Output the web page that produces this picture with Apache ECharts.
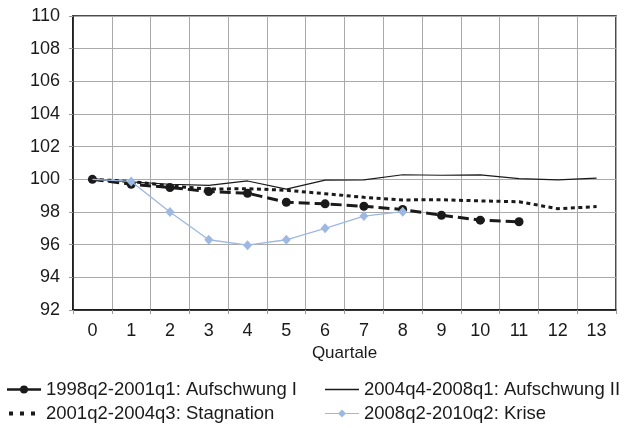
<!DOCTYPE html>
<html>
<head>
<meta charset="utf-8">
<script src="https://cdn.jsdelivr.net/npm/echarts@6/dist/echarts.min.js"></script>
<style>html,body{margin:0;padding:0;background:#fff}#c{width:630px;height:428px}</style>
</head>
<body>
<div id="c"></div>
<script>
var categories = ['0','1','2','3','4','5','6','7','8','9','10','11','12','13'];
var aufschwungI = [100, 99.7, 99.5, 99.25, 99.15, 98.6, 98.5, 98.35, 98.15, 97.8, 97.5, 97.4];
var aufschwungII = [100, 99.85, 99.7, 99.63, 99.9, 99.4, 99.95, 99.97, 100.28, 100.25, 100.27, 100.04, 99.97, 100.07];
var stagnation = [100, 99.87, 99.6, 99.4, 99.43, 99.33, 99.12, 98.9, 98.74, 98.75, 98.68, 98.63, 98.2, 98.33];
var krise = [100, 99.87, 98.0, 96.3, 95.97, 96.3, 97.0, 97.75, 98.02];
var names = ['1998q2-2001q1: Aufschwung I', '2004q4-2008q1: Aufschwung II', '2001q2-2004q3: Stagnation', '2008q2-2010q2: Krise'];
var yTicks = {min: 92, max: 110, interval: 2};

var FONT = "'Liberation Sans', Arial, sans-serif";
var icons = [
  'path://M0,3.8 L13.5,3.8 L13.5,6.2 L0,6.2 Z M20.5,3.8 L34,3.8 L34,6.2 L20.5,6.2 Z M13,5 A4,4 0 1,1 21,5 A4,4 0 1,1 13,5 Z',
  'path://M0,1 L0.01,1 L0.01,9 L0,9 Z M0,4.3 L34,4.3 L34,5.7 L0,5.7 Z',
  'path://M0,1 L0.01,1 L0.01,9 L0,9 Z M2,3 L6,3 L6,7 L2,7 Z M13,3 L17,3 L17,7 L13,7 Z M24,3 L28,3 L28,7 L24,7 Z M33.99,1 L34,1 L34,9 L33.99,9 Z',
  'path://M0,4.4 L13.5,4.4 L13.5,5.6 L0,5.6 Z M20.5,4.4 L34,4.4 L34,5.6 L20.5,5.6 Z M17,1 L21,5 L17,9 L13,5 Z'
];
var chart = echarts.init(document.getElementById('c'), null, {renderer: 'canvas'});
function leg(i, left, top) {
  return {
    data: [{name: names[i], icon: icons[i]}], left: left, top: top, itemWidth: 34, itemHeight: 10,
    padding: 0, selectedMode: false,
    textStyle: {fontFamily: FONT, fontSize: 18.5, color: '#1a1a1a'}
  };
}
chart.setOption({
  animation: false,
  grid: {left: 73, right: 14, top: 16, bottom: 118, show: true, borderColor: '#111', borderWidth: 1.5, backgroundColor: 'transparent'},
  legend: [
    leg(0, 7, 380),
    leg(1, 325, 380),
    leg(2, 7, 404),
    leg(3, 325, 404)
  ],
  xAxis: {
    type: 'category', data: categories, boundaryGap: true,
    name: 'Quartale', nameLocation: 'middle', nameGap: 35,
    nameTextStyle: {fontFamily: FONT, fontSize: 17, color: '#1a1a1a'},
    axisLine: {lineStyle: {color: '#111', width: 1.5}},
    axisTick: {show: true, length: 4, lineStyle: {color: '#999'}},
    axisLabel: {fontFamily: FONT, fontSize: 18, color: '#1a1a1a', margin: 12},
    splitLine: {show: true, lineStyle: {color: '#aaa', width: 1}}
  },
  yAxis: {
    type: 'value', min: yTicks.min, max: yTicks.max, interval: yTicks.interval,
    axisLine: {show: true, lineStyle: {color: '#111', width: 1.5}},
    axisTick: {show: true, length: 4, lineStyle: {color: '#999'}},
    axisLabel: {fontFamily: FONT, fontSize: 18, color: '#1a1a1a', margin: 13},
    splitLine: {show: true, lineStyle: {color: '#aaa', width: 1}}
  },
  series: [
    {
      name: names[0], type: 'line', data: aufschwungI, z: 3,
      symbol: 'circle', symbolSize: 9, showAllSymbol: true,
      itemStyle: {color: '#1a1a1a'},
      lineStyle: {color: '#1a1a1a', width: 3, type: [11, 5]}
    },
    {
      name: names[1], type: 'line', data: aufschwungII, z: 2,
      symbol: 'none', itemStyle: {color: '#1a1a1a'},
      lineStyle: {color: '#1a1a1a', width: 1.2}
    },
    {
      name: names[2], type: 'line', data: stagnation, z: 2,
      symbol: 'none', itemStyle: {color: '#1a1a1a'},
      lineStyle: {color: '#1a1a1a', width: 3, type: [4, 3.5]}
    },
    {
      name: names[3], type: 'line', z: 4,
      data: krise.map(function (v, i) { return i === 0 ? {value: v, symbol: 'none'} : v; }),
      symbol: 'diamond', symbolSize: [9, 10], showAllSymbol: true,
      itemStyle: {color: '#9db8e3'},
      lineStyle: {color: '#9db8e3', width: 1.3}
    }
  ]
});
</script>
</body>
</html>
